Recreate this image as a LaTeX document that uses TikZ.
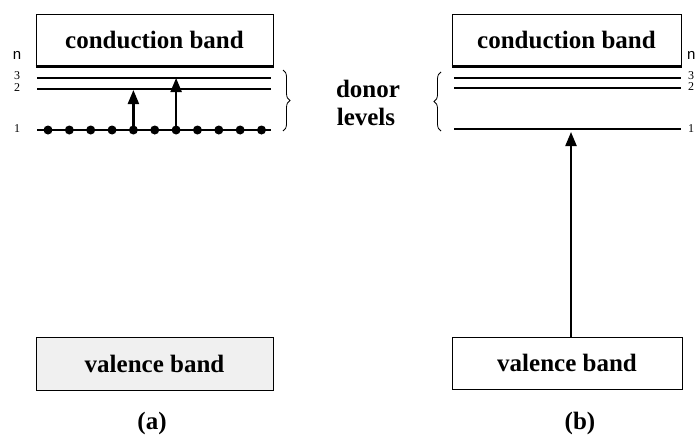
\documentclass[tikz,border=0pt]{standalone}
\usepackage{fontspec}
\setmainfont{Liberation Serif}
\newfontfamily\smallsans{Liberation Sans}
\usetikzlibrary{arrows.meta,decorations.pathreplacing,calc}
\begin{document}
\begin{tikzpicture}[x=1pt,y=-1pt,
  bandbox/.style={draw, line width=1pt, inner sep=0pt, font=\fontsize{25}{28}\selectfont\bfseries},
  levelline/.style={line width=1.8pt},
  dotnode/.style={circle, fill=black, inner sep=0pt, minimum size=9pt},
  uparrow/.style={line width=2.2pt, -{Triangle[length=14pt,width=11pt]}},
  bracestyle/.style={decorate, decoration={brace, amplitude=7pt}, line width=0.8pt},
  numlabel/.style={font=\fontsize{12}{13}\selectfont, inner sep=0pt},
  bigtext/.style={font=\fontsize{25}{28}\selectfont\bfseries, inner sep=0pt}]
\useasboundingbox (0,0) rectangle (695,439);

% ---------- (a) ----------
\node[bandbox, minimum width=237pt, minimum height=52pt] (cbA) at (154.5,40) {conduction band};
\draw[line width=2.6pt] (cbA.south west) -- (cbA.south east);
\node[bandbox, fill=black!6, minimum width=237pt, minimum height=53pt] (vbA) at (154.5,363.5) {valence band};

\coordinate (a3w) at (37,78);  \coordinate (a3e) at (271,78);
\coordinate (a2w) at (37,89);  \coordinate (a2e) at (271,89);
\coordinate (a1w) at (37,130); \coordinate (a1e) at (271,130);
\draw[levelline] (a3w) -- (a3e);
\draw[levelline] (a2w) -- (a2e);
\draw[levelline] (a1w) -- (a1e);
\foreach \i in {1,...,11} {
  \node[dotnode] (d\i) at ({48+21.35*(\i-1)},130) {};
}
\coordinate (tip2) at (d5 |- a2w);
\coordinate (tip3) at (d7 |- a3w);
\draw[uparrow] (d5.center) -- ($(tip2)+(0,1)$);
\draw[uparrow] (d7.center) -- (tip3);

\node[font=\smallsans\fontsize{15}{16}\selectfont, inner sep=0pt] (nA) at (17,55) {n};
\node[numlabel] (n3A) at (17,76) {3};
\node[numlabel] (n2A) at (17,88) {2};
\node[numlabel] (n1A) at (17,129) {1};

\coordinate (brAt) at (283,70);
\coordinate (brAb) at (283,131);
\draw[bracestyle] (brAt) -- (brAb);

\node[bigtext] (labA) at (152,423) {(a)};

% ---------- middle text ----------
\node[bigtext] (donor) at (368,89) {donor};
\node[bigtext] (levels) at (366,117) {levels};

% ---------- (b) ----------
\node[bandbox, minimum width=229pt, minimum height=52pt] (cbB) at (566.5,40) {conduction band};
\draw[line width=2.6pt] (cbB.south west) -- (cbB.south east);
\node[bandbox, minimum width=230pt, minimum height=52pt] (vbB) at (567,363) {valence band};

\coordinate (b3w) at (454,78);  \coordinate (b3e) at (681,78);
\coordinate (b2w) at (454,88);  \coordinate (b2e) at (681,88);
\coordinate (b1w) at (454,129); \coordinate (b1e) at (681,129);
\draw[levelline] (b3w) -- (b3e);
\draw[levelline] (b2w) -- (b2e);
\draw[levelline] (b1w) -- (b1e);

\coordinate (tipB) at (571,132);
\draw[uparrow] (tipB |- vbB.north) -- (tipB);

\coordinate (brBt) at (441,131);
\coordinate (brBb) at (441,72);
\draw[bracestyle] (brBt) -- (brBb);

\node[font=\smallsans\fontsize{15}{16}\selectfont, inner sep=0pt, anchor=west] (nB) at (687,55) {n};
\node[numlabel, anchor=west] (n3B) at (688,76) {3};
\node[numlabel, anchor=west] (n2B) at (688,87) {2};
\node[numlabel, anchor=west] (n1B) at (688,129) {1};

\node[bigtext] (labB) at (580,423) {(b)};
\end{tikzpicture}
\end{document}
